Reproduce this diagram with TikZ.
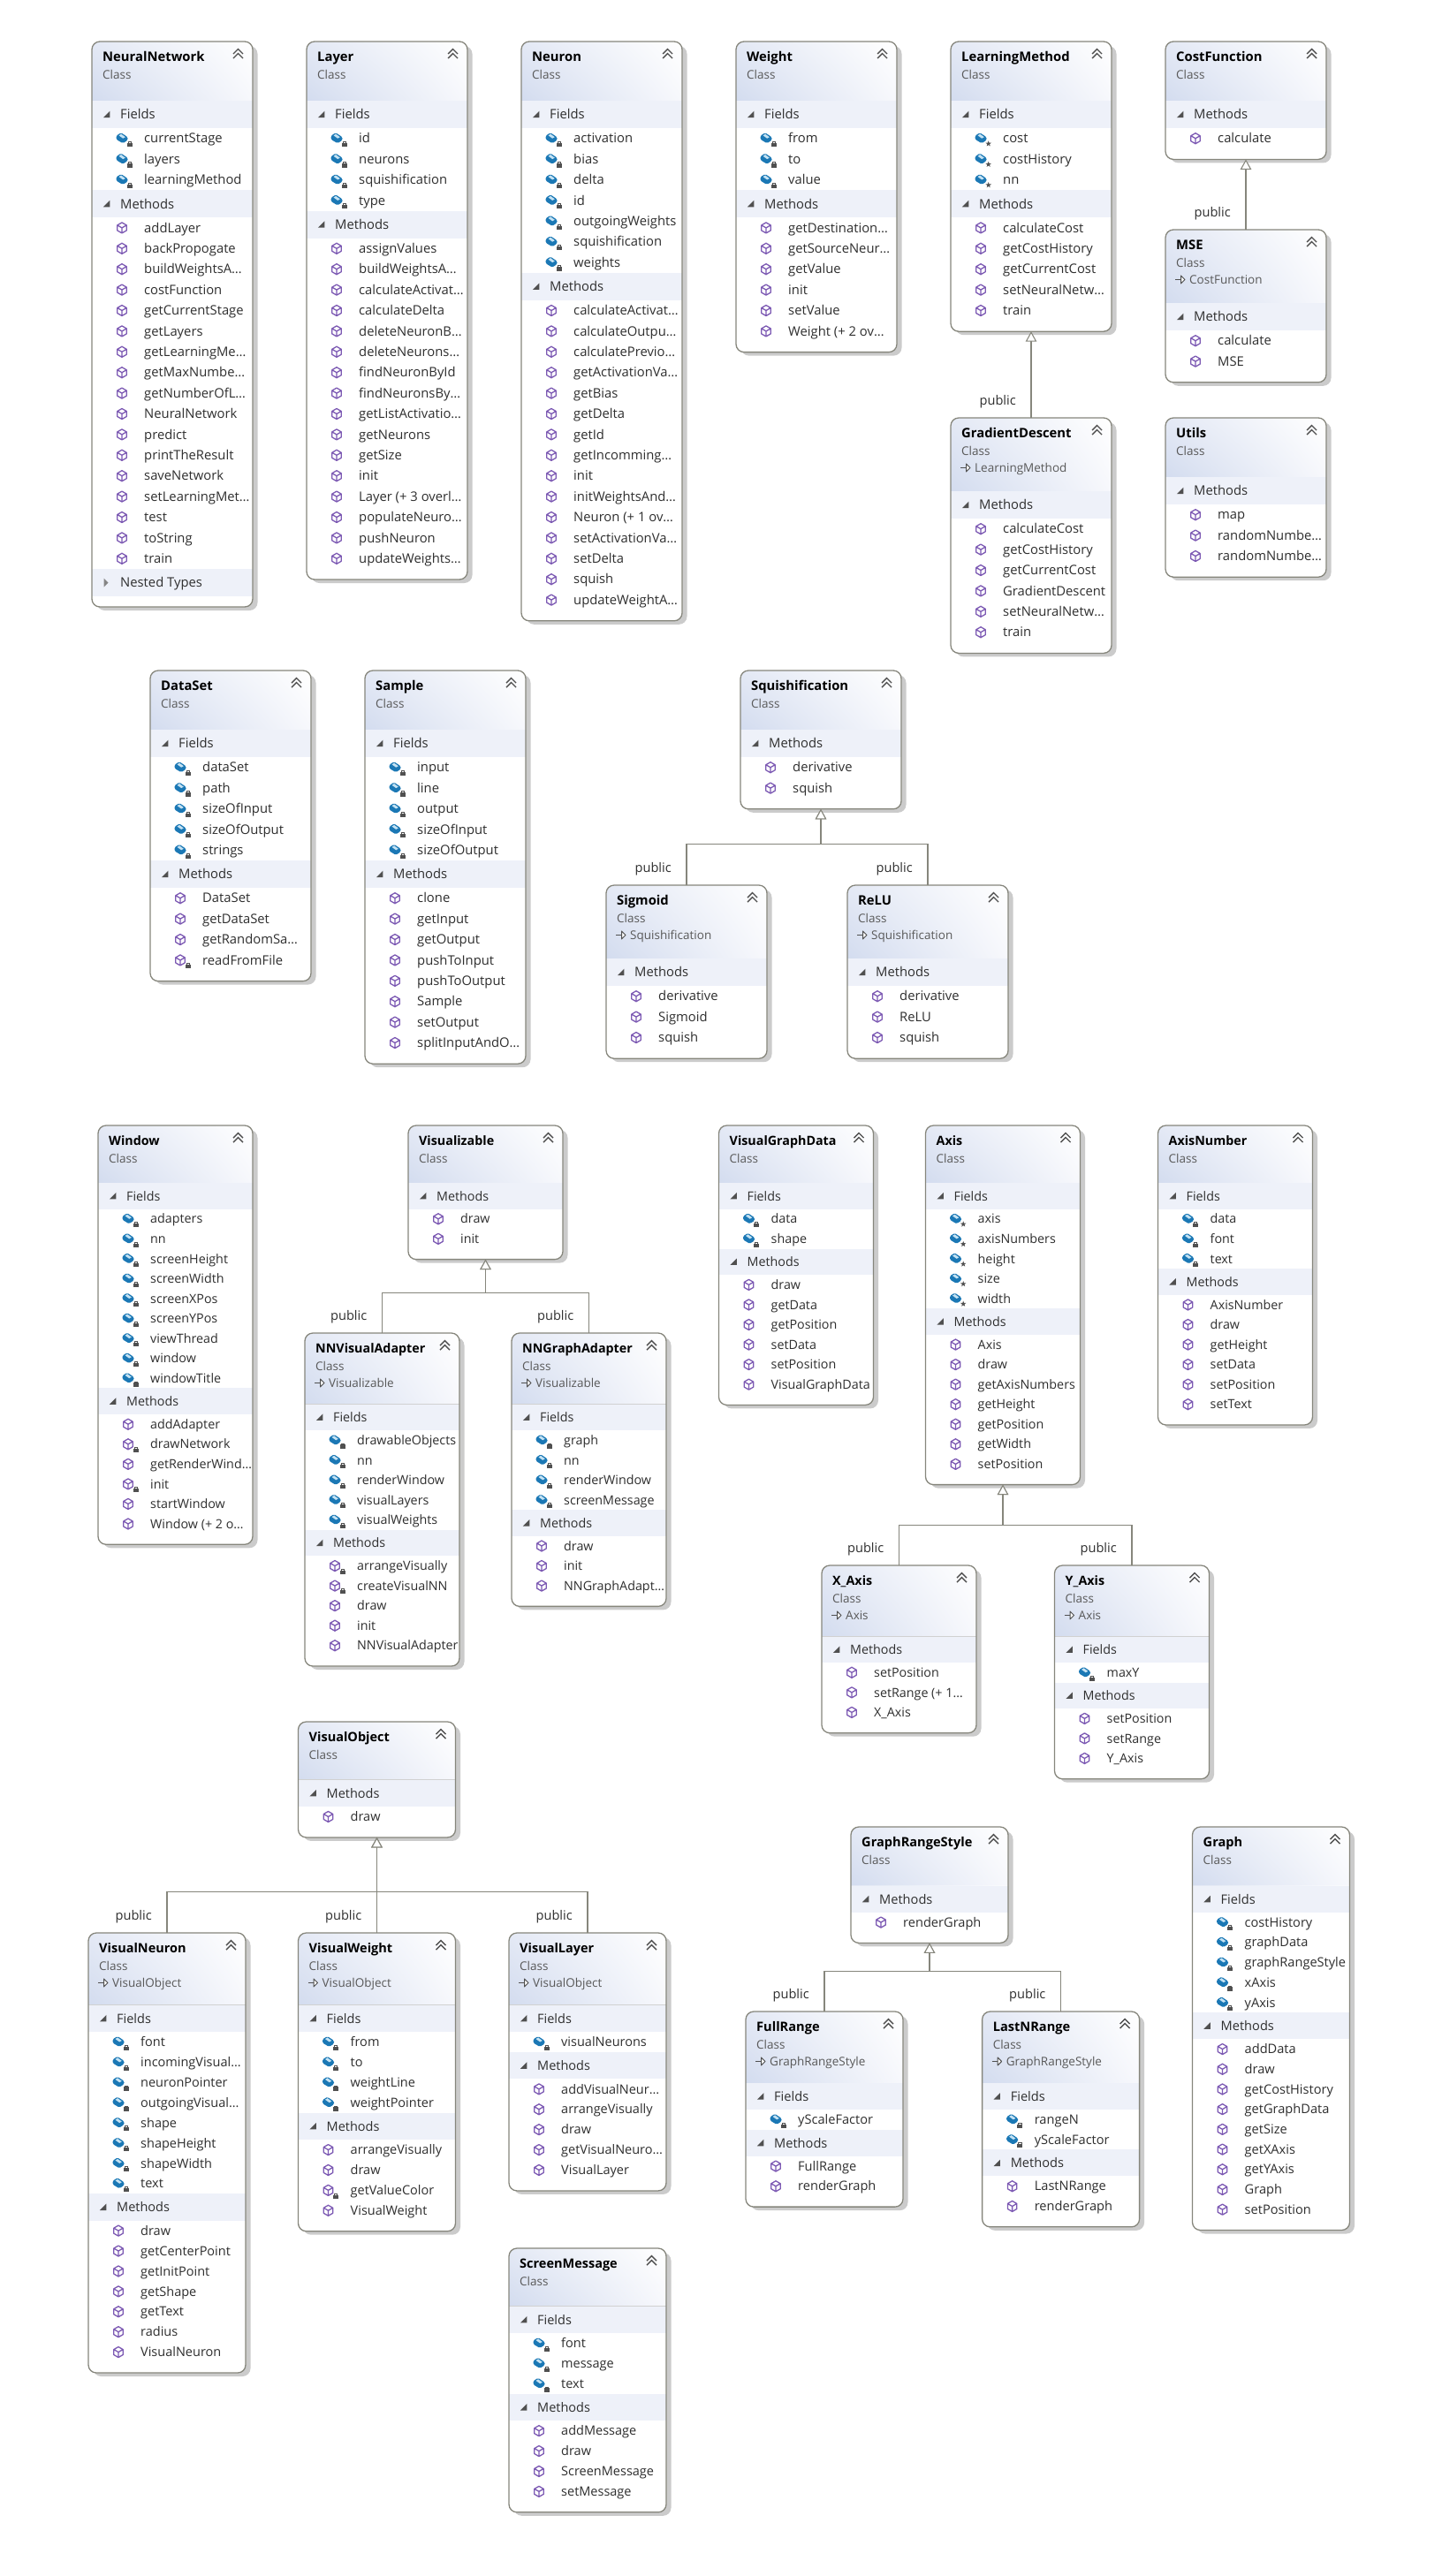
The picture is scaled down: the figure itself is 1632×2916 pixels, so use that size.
\documentclass[tikz,border=0pt]{standalone}
\usepackage{fontspec}
\setmainfont{Open Sans}
\usetikzlibrary{positioning}
\usetikzlibrary{calc}
\usetikzlibrary{arrows.meta}
\usetikzlibrary{backgrounds}
\usetikzlibrary{shadings}

\definecolor{edgegray}{HTML}{86867C}
\definecolor{shadowgray}{HTML}{CBCBCB}
\definecolor{headblue}{HTML}{D3DCEF}
\definecolor{headmid}{HTML}{E4E9F5}
\definecolor{headpale}{HTML}{F7F8FC}
\definecolor{barblue}{HTML}{EEF1F9}
\definecolor{icongray}{HTML}{505050}
\definecolor{fieldblue}{HTML}{1B78B5}
\definecolor{fieldlight}{HTML}{C4E2F3}
\definecolor{methodpurple}{HTML}{7C59B3}
\definecolor{labeldark}{HTML}{2E2E2E}

% Sizes of one group of boxes: width, row, bar, head, head with base, font
\newcommand{\groupsize}[6]{\gdef\boxw{#1}\gdef\rowh{#2}\gdef\barh{#3}\gdef\headh{#4}\gdef\headb{#5}\gdef\itemfs{#6}}

% Small icons
\newcommand{\fieldicon}[2]{
  \fill [fieldblue, rounded corners=1.5pt, shift={(#1,#2)}] (-6.5,-3) -- (-1,-6.5) -- (6.5,-1.5) -- (6.5,2) -- (1,5.5) -- (-6.5,1) -- cycle;
  \fill [fieldlight, shift={(#1,#2)}] (-3.5,-3.4) -- (-0.9,-5) -- (3.8,-1.5) -- (1.2,0) -- cycle;
}
\newcommand{\methodicon}[2]{
  \draw [methodpurple, line width=1.3pt, line join=round, shift={(#1,#2)}] (0,-6) -- (5.2,-3) -- (5.2,3) -- (0,6) -- (-5.2,3) -- (-5.2,-3) -- cycle (-5.2,-3) -- (0,0) -- (5.2,-3) (0,0) -- (0,6);
}
\newcommand{\lockicon}[2]{
  \fill [icongray, shift={(#1+8.7,#2+6)}] (-3,-0.8) rectangle (3,3.4);
  \draw [icongray, line width=0.9pt, shift={(#1+8.7,#2+6)}] (-1.7,-0.8) -- (-1.7,-2.2) -- (1.7,-2.2) -- (1.7,-0.8);
}
\newcommand{\staricon}[2]{
  \fill [icongray, shift={(#1+8.7,#2+6)}] (0,-3.4) -- (0.82,-1.13) -- (3.23,-1.05) -- (1.33,0.43) -- (2,2.75) -- (0,1.4) -- (-2,2.75) -- (-1.33,0.43) -- (-3.23,-1.05) -- (-0.82,-1.13) -- cycle;
}

% Top of a class box: id, title, base class, x, y
\newcommand{\classhead}[5]{
  \gdef\cname{#1}\gdef\cx{#4}\gdef\cy{#5}
  \def\basetext{#3}
  \ifx\basetext\empty \pgfmathsetmacro\hh{\headh} \else \pgfmathsetmacro\hh{\headb} \fi
  \shade [lower left=headblue, upper left=headmid, upper right=white, lower right=headpale] (#4,#5+\hh) [rounded corners=9pt] -- (#4,#5) -- (#4+\boxw,#5) [sharp corners] -- (#4+\boxw,#5+\hh) -- cycle;
  \draw [color=black!18] (#4,#5+\hh) -- (#4+\boxw,#5+\hh);
  \node (#1-title) [titletext] at (#4+12,#5+22.3) {#2};
  \node (#1-kind) [kindtext] at (#4+12,#5+42.3) {Class};
  \ifx\basetext\empty\else
    \draw [color=icongray, line width=1pt] (#4+11,#5+56.5) -- (#4+22,#5+56.5);
    \draw [color=icongray, line width=1pt, fill=white, line join=round] (#4+17.5,#5+52) -- (#4+22,#5+56.5) -- (#4+17.5,#5+61) -- cycle;
    \node (#1-base) [kindtext] at (#4+27,#5+61.7) {#3};
  \fi
  \draw [color=icongray, line width=1.4pt] ($(#4+\boxw,#5)+(-22,14)$) -- ++(5.5,-5.5) -- ++(5.5,5.5) ($(#4+\boxw,#5)+(-22,19)$) -- ++(5.5,-5.5) -- ++(5.5,5.5);
  \pgfmathsetmacro\tmpy{#5+\hh}
  \xdef\cury{\tmpy}
}

% A section bar: id suffix, label
\newcommand{\secbar}[2]{
  \fill [barblue] (\cx,\cury) rectangle (\cx+\boxw,\cury+\barh);
  \fill [icongray, shift={(\cx+16.7,\cury+\barh/2)}] (-3.8,3.6) -- (3.6,3.6) -- (3.6,-3.8) -- cycle;
  \node (\cname-#1) [sectext] at (\cx+32,\cury+\barh/2+5.3) {#2};
  \pgfmathsetmacro\tmpy{\cury+\barh}
  \xdef\cury{\tmpy}
}

% Rows under a bar: id suffix, icon, default mark, items
\newcommand{\itemrows}[4]{
  \foreach \txt/\flag [count=\n] in {#4} {
    \pgfmathsetmacro\rowy{\cury+(\n-0.5)*\rowh}
    \csname #2icon\endcsname{\cx+34}{\rowy}
    \ifx\txt\flag
      \def\markname{#3}
    \else
      \let\markname\flag
    \fi
    \ifx\markname\empty\else \csname \markname icon\endcsname{\cx+34}{\rowy} \fi
    \node (\cname-#1\n) [itemtext] at (\cx+59,\rowy+5.2) {\txt};
    \pgfmathsetmacro\tmpy{\cury+\n*\rowh}
    \xdef\nexty{\tmpy}
  }
  \xdef\cury{\nexty}
}
\newcommand{\fieldrows}[2][lock]{\secbar{fields}{Fields}\itemrows{f}{field}{#1}{#2}}
\newcommand{\methodrows}[1]{\secbar{methods}{Methods}\itemrows{m}{method}{}{#1}}
\newcommand{\nestedbar}{
  \fill [barblue] (\cx,\cury) rectangle (\cx+\boxw,\cury+\barh);
  \fill [icongray!70, shift={(\cx+16,\cury+\barh/2)}] (-2.5,-5) -- (2.5,0) -- (-2.5,5) -- cycle;
  \node (\cname-nested) [sectext] at (\cx+32,\cury+\barh/2+5.3) {Nested Types};
  \pgfmathsetmacro\tmpy{\cury+\barh}
  \xdef\cury{\tmpy}
}

% Close the box: the named outline, with its shadow behind
\newcommand{\classend}{
  \pgfmathsetmacro\ch{\cury+12-\cy}
  \begin{scope}[on background layer]
    \fill [shadowgray, rounded corners=9pt] (\cx+5.5,\cy+5) rectangle (\cx+\boxw+5.5,\cy+\ch+4);
    \fill [white, rounded corners=9pt] (\cx,\cy) rectangle (\cx+\boxw,\cy+\ch);
  \end{scope}
  \node (\cname) [classbox, minimum width=\boxw pt, minimum height=\ch pt] at (\cx,\cy) {};
}

% Where the branches of a parent meet: parent, drop below it
\newcommand{\classbus}[2]{\coordinate (#1bus) at ($(#1.south)+(0,#2)$);}
% Inheritance connector with its label: child, parent
\newcommand{\inherits}[2]{
  \draw [inherit] (#1.north) |- (#2bus) -- (#2.south);
  \node (#1-public) [publictext, above left=11pt and 17pt of #1.north] {public};
}

\begin{document}
\begin{tikzpicture}[x=1pt,y=-1pt]

% Define styles for different elements
\tikzstyle{classbox} = [rectangle, rounded corners=9pt, draw=edgegray, line width=1.3pt, inner sep=0pt, outer sep=0pt, anchor=north west]
\tikzstyle{inherit} = [draw=edgegray, line width=1.05pt, -{Triangle[open,fill=white,length=11.5pt,width=12.5pt]}]
\tikzstyle{titletext} = [anchor=base west, inner sep=0pt, text=black, font=\fontsize{\itemfs}{\itemfs}\selectfont\bfseries]
\tikzstyle{kindtext} = [anchor=base west, inner sep=0pt, text=black!65, font=\fontsize{13.5}{13.5}\selectfont]
\tikzstyle{sectext} = [anchor=base west, inner sep=0pt, text=labeldark, font=\fontsize{\itemfs}{\itemfs}\selectfont]
\tikzstyle{itemtext} = [anchor=base west, inner sep=0pt, text=labeldark, font=\fontsize{\itemfs}{\itemfs}\selectfont]
\tikzstyle{publictext} = [inner sep=0pt, text=labeldark, font=\fontsize{\itemfs}{\itemfs}\selectfont]

\useasboundingbox (0,0) rectangle (1632,2916);

% First row of classes
\groupsize{182}{23.4}{31}{67}{83}{14.8}

\classhead{NeuralNetwork}{NeuralNetwork}{}{104}{47}
\fieldrows{currentStage,layers,learningMethod}
\methodrows{addLayer,backPropogate,buildWeightsA…,costFunction,getCurrentStage,getLayers,getLearningMe…,getMaxNumbe…,getNumberOfL…,NeuralNetwork,predict,printTheResult,saveNetwork,setLearningMet…,test,toString,train}
\nestedbar
\classend

\classhead{Layer}{Layer}{}{347}{47}
\fieldrows{id,neurons,squishification,type}
\methodrows{assignValues,buildWeightsA…,calculateActivat…,calculateDelta,deleteNeuronB…,deleteNeurons…,findNeuronById,findNeuronsBy…,getListActivatio…,getNeurons,getSize,init,Layer (+ 3 overl…,populateNeuro…,pushNeuron,updateWeights…}
\classend

\classhead{Neuron}{Neuron}{}{590}{47}
\fieldrows{activation,bias,delta,id,outgoingWeights,squishification,weights}
\methodrows{calculateActivat…,calculateOutpu…,calculatePrevio…,getActivationVa…,getBias,getDelta,getId,getIncomming…,init,initWeightsAnd…,Neuron (+ 1 ov…,setActivationVa…,setDelta,squish,updateWeightA…}
\classend

\classhead{Weight}{Weight}{}{833}{47}
\fieldrows{from,to,value}
\methodrows{getDestination…,getSourceNeur…,getValue,init,setValue,Weight (+ 2 ov…}
\classend

\classhead{LearningMethod}{LearningMethod}{}{1076}{47}
\fieldrows[star]{cost,costHistory,nn}
\methodrows{calculateCost,getCostHistory,getCurrentCost,setNeuralNetw…,train}
\classend

\classhead{CostFunction}{CostFunction}{}{1319}{47}
\methodrows{calculate}
\classend

\classhead{MSE}{MSE}{CostFunction}{1319}{260}
\methodrows{calculate,MSE}
\classend

\classhead{GradientDescent}{GradientDescent}{LearningMethod}{1076}{473}
\methodrows{calculateCost,getCostHistory,getCurrentCost,GradientDescent,setNeuralNetw…,train}
\classend

\classhead{Utils}{Utils}{}{1319}{473}
\methodrows{map,randomNumbe…,randomNumbe…}
\classend

% Second row of classes
\classhead{DataSet}{DataSet}{}{170}{759}
\fieldrows{dataSet,path,sizeOfInput,sizeOfOutput,strings}
\methodrows{DataSet,getDataSet,getRandomSa…,readFromFile/lock}
\classend

\classhead{Sample}{Sample}{}{413}{759}
\fieldrows{input,line,output,sizeOfInput,sizeOfOutput}
\methodrows{clone,getInput,getOutput,pushToInput,pushToOutput,Sample,setOutput,splitInputAndO…}
\classend

\classhead{Squishification}{Squishification}{}{838}{759}
\methodrows{derivative,squish}
\classend

\classhead{Sigmoid}{Sigmoid}{Squishification}{686}{1002}
\methodrows{derivative,Sigmoid,squish}
\classend

\classhead{ReLU}{ReLU}{Squishification}{959}{1002}
\methodrows{derivative,ReLU,squish}
\classend

% Third row of classes
\groupsize{175}{22.55}{29.5}{65}{80.5}{14.3}

\classhead{Window}{Window}{}{111}{1274}
\fieldrows{adapters,nn,screenHeight,screenWidth,screenXPos,screenYPos,viewThread,window,windowTitle}
\methodrows{addAdapter,drawNetwork/lock,getRenderWind…,init/lock,startWindow,Window (+ 2 o…}
\classend

\classhead{Visualizable}{Visualizable}{}{462}{1274}
\methodrows{draw,init}
\classend

\classhead{NNVisualAdapter}{NNVisualAdapter}{Visualizable}{345}{1509}
\fieldrows{drawableObjects,nn,renderWindow,visualLayers,visualWeights}
\methodrows{arrangeVisually/lock,createVisualNN/lock,draw,init,NNVisualAdapter}
\classend

\classhead{NNGraphAdapter}{NNGraphAdapter}{Visualizable}{579}{1509}
\fieldrows{graph,nn,renderWindow,screenMessage}
\methodrows{draw,init,NNGraphAdapt…}
\classend

\classhead{VisualGraphData}{VisualGraphData}{}{813.5}{1274}
\fieldrows{data,shape}
\methodrows{draw,getData,getPosition,setData,setPosition,VisualGraphData}
\classend

\classhead{Axis}{Axis}{}{1047.5}{1274}
\fieldrows[star]{axis,axisNumbers,height,size,width}
\methodrows{Axis,draw,getAxisNumbers,getHeight,getPosition,getWidth,setPosition}
\classend

\classhead{AxisNumber}{AxisNumber}{}{1310.5}{1274}
\fieldrows{data,font,text}
\methodrows{AxisNumber,draw,getHeight,setData,setPosition,setText}
\classend

\classhead{XAxis}{X\_Axis}{Axis}{930}{1772}
\methodrows{setPosition,setRange (+ 1…,X\_Axis}
\classend

\classhead{YAxis}{Y\_Axis}{Axis}{1193.5}{1772}
\fieldrows{maxY}
\methodrows{setPosition,setRange,Y\_Axis}
\classend

% Fourth row of classes
\groupsize{178}{22.9}{30.5}{65.5}{81.5}{14.5}

\classhead{VisualObject}{VisualObject}{}{337.5}{1949}
\methodrows{draw}
\classend

\classhead{VisualNeuron}{VisualNeuron}{VisualObject}{100}{2188}
\fieldrows{font,incomingVisual…,neuronPointer,outgoingVisual…,shape,shapeHeight,shapeWidth,text}
\methodrows{draw,getCenterPoint,getInitPoint,getShape,getText,radius,VisualNeuron}
\classend

\classhead{VisualWeight}{VisualWeight}{VisualObject}{337.5}{2188}
\fieldrows{from,to,weightLine,weightPointer}
\methodrows{arrangeVisually,draw,getValueColor/lock,VisualWeight}
\classend

\classhead{VisualLayer}{VisualLayer}{VisualObject}{576}{2188}
\fieldrows{visualNeurons}
\methodrows{addVisualNeur…,arrangeVisually,draw,getVisualNeuro…,VisualLayer}
\classend

\classhead{ScreenMessage}{ScreenMessage}{}{576}{2545}
\fieldrows{font,message,text}
\methodrows{addMessage,draw,ScreenMessage,setMessage}
\classend

% Graph classes
\groupsize{178}{22.7}{30}{66.7}{81}{14.6}

\classhead{GraphRangeStyle}{GraphRangeStyle}{}{963}{2068}
\methodrows{renderGraph}
\classend

\classhead{FullRange}{FullRange}{GraphRangeStyle}{844}{2277}
\fieldrows{yScaleFactor}
\methodrows{FullRange,renderGraph}
\classend

\classhead{LastNRange}{LastNRange}{GraphRangeStyle}{1111.6}{2277}
\fieldrows{rangeN,yScaleFactor}
\methodrows{LastNRange,renderGraph}
\classend

\classhead{Graph}{Graph}{}{1349.5}{2068}
\fieldrows{costHistory,graphData,graphRangeStyle,xAxis,yAxis}
\methodrows{addData,draw,getCostHistory,getGraphData,getSize,getXAxis,getYAxis,Graph,setPosition}
\classend

% Draw the arrows
\classbus{LearningMethod}{30}
\classbus{CostFunction}{30}
\classbus{Squishification}{40}
\classbus{Visualizable}{38}
\classbus{Axis}{46}
\classbus{VisualObject}{62}
\classbus{GraphRangeStyle}{32}

\inherits{GradientDescent}{LearningMethod}
\inherits{MSE}{CostFunction}
\inherits{Sigmoid}{Squishification}
\inherits{ReLU}{Squishification}
\inherits{NNVisualAdapter}{Visualizable}
\inherits{NNGraphAdapter}{Visualizable}
\inherits{XAxis}{Axis}
\inherits{YAxis}{Axis}
\inherits{VisualNeuron}{VisualObject}
\inherits{VisualWeight}{VisualObject}
\inherits{VisualLayer}{VisualObject}
\inherits{FullRange}{GraphRangeStyle}
\inherits{LastNRange}{GraphRangeStyle}

\end{tikzpicture}
\end{document}
